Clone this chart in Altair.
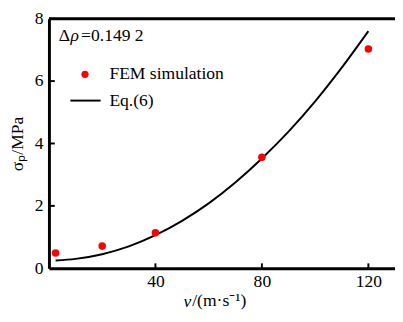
import altair as alt
import pandas as pd

# FEM simulation points
fem_v = [2.5, 20, 40, 80, 120]
fem_s = [0.49, 0.71, 1.14, 3.56, 7.03]

# Eq.(6) curve
eq_v = [2.5, 10, 20, 30, 40, 50, 60, 70, 80, 90, 100, 110, 120]
eq_s = [0.25, 0.30, 0.45, 0.70, 1.06, 1.52, 2.08, 2.75, 3.52, 4.38, 5.35, 6.43, 7.60]

x_ticks = [40, 80, 120]
y_ticks = [0, 2, 4, 6, 8]

W, H = 355, 256
FONT = "Liberation Serif"

fem = pd.DataFrame({"v": fem_v, "s": fem_s})
eq = pd.DataFrame({"v": eq_v, "s": eq_s})

xs = alt.Scale(domain=[0, 130], nice=False, zero=False)
ys = alt.Scale(domain=[0, 8], nice=False)

xaxis = alt.Axis(values=x_ticks, title=None, tickSize=0, labelPadding=5,
                 grid=False, domainWidth=3, domainColor="black",
                 labelFont=FONT, labelFontSize=18, labelColor="black")
yaxis = alt.Axis(values=y_ticks, title="σₚ/MPa", tickSize=0, labelPadding=6,
                 titlePadding=8, grid=False, domainWidth=3, domainColor="black",
                 labelFont=FONT, labelFontSize=18, titleFont=FONT, titleFontSize=18,
                 titleFontWeight="normal", labelColor="black", titleColor="black")

line = alt.Chart(eq).mark_line(color="black", strokeWidth=2, interpolate="monotone").encode(
    x=alt.X("v:Q", scale=xs, axis=xaxis),
    y=alt.Y("s:Q", scale=ys, axis=yaxis),
)
pts = alt.Chart(fem).mark_point(filled=True, color="#ff0000", size=60, opacity=1).encode(
    x=alt.X("v:Q", scale=xs), y=alt.Y("s:Q", scale=ys)
)

# inward ticks
xt = alt.Chart(pd.DataFrame({"v": x_ticks})).mark_rule(color="black", strokeWidth=2).encode(
    x=alt.X("v:Q", scale=xs), y=alt.value(H), y2=alt.value(H - 5)
)
yt = alt.Chart(pd.DataFrame({"s": y_ticks[1:]})).mark_rule(color="black", strokeWidth=2).encode(
    y=alt.Y("s:Q", scale=ys), x=alt.value(0), x2=alt.value(6)
)
top_border = alt.Chart(pd.DataFrame({"a": [0]})).mark_rule(color="black", strokeWidth=3).encode(
    x=alt.value(0), x2=alt.value(W), y=alt.value(0)
)

def txt(t, x, y, italic=False, align="left"):
    return alt.Chart(pd.DataFrame({"t": [t]})).mark_text(
        font=FONT, fontSize=18, align=align, baseline="middle", color="black",
        fontStyle="italic" if italic else "normal"
    ).encode(text="t:N", x=alt.value(x), y=alt.value(y))

leg_dot = alt.Chart(pd.DataFrame({"a": [0]})).mark_point(
    filled=True, color="#ff0000", size=55, opacity=1
).encode(x=alt.value(37), y=alt.value(57))
leg_line = alt.Chart(pd.DataFrame({"a": [0]})).mark_rule(color="black", strokeWidth=2).encode(
    x=alt.value(22), x2=alt.value(53), y=alt.value(84)
)

chart = alt.layer(
    line, pts, xt, yt, top_border,
    txt("Δ", 10, 18), txt("ρ", 22, 18, italic=True), txt("=0.149 2", 33, 18),
    leg_dot, txt("FEM simulation", 62, 57),
    leg_line, txt("Eq.(6)", 62, 85),
    txt("v", 138, H + 35, italic=True), txt("/(m·s⁻¹)", 147, H + 34),
).properties(
    width=W, height=H, padding={"left": 42, "top": 7, "right": 0, "bottom": 45},
    autosize=alt.AutoSizeParams(type="none"),
).configure_view(stroke=None).configure(background="white")

chart.save("out.html", embed_options={"renderer": "svg", "actions": False})
